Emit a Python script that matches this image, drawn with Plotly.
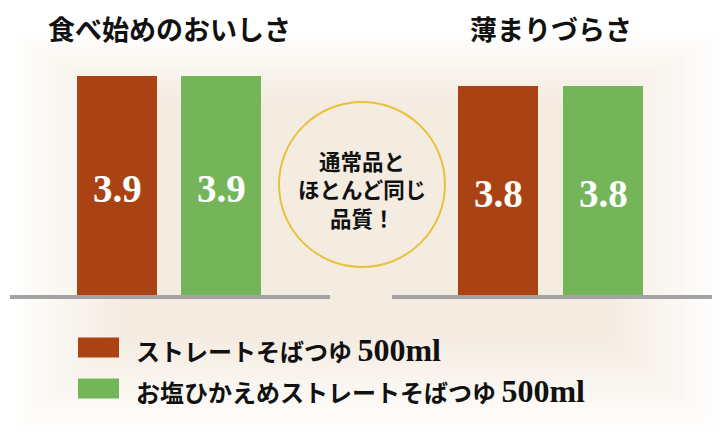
import plotly.graph_objects as go

# ---- data ----
categories = ["食べ始めのおいしさ", "薄まりづらさ"]
series_names = ["ストレートそばつゆ 500ml", "お塩ひかえめストレートそばつゆ 500ml"]
regular = [3.9, 3.8]
low_salt = [3.9, 3.8]
badge_lines = ["通常品と", "ほとんど同じ", "品質！"]

# ---- style ----
W, H = 724, 442
OFF = 8                      # page body margin
FW, FH = W - OFF, H - OFF    # figure size that fits the window
RED = "#ab4213"
GREEN = "#74b55a"
BAR_COLORS = [RED, GREEN]
JP = "Noto Sans CJK JP"
SERIF = "Liberation Serif"
Y_MIN, Y_MAX = 1.595, 4.069
BG_CENTER = (244, 236, 225)


def px_x(p):
    return (p - OFF) / FW


def px_y(p):
    return 1 - (p - OFF) / FH


fig = go.Figure()

# background vignette: nested opaque layers blending white -> warm beige
shapes = []
n = 40
for i in range(n):
    t = i / (n - 1)
    x0 = 8 + t * 115
    x1 = W - t * 115
    y0 = 30 + t * 70
    y1 = 436 - t * 100
    c = tuple(round(255 + (b - 255) * t) for b in BG_CENTER)
    shapes.append(dict(type="rect", xref="paper", yref="paper", layer="below",
                       x0=px_x(x0), x1=px_x(x1), y0=px_y(y1), y1=px_y(y0),
                       line=dict(width=0), fillcolor=f"rgb{c}"))

domains = [(px_x(10), px_x(330)), (px_x(392), px_x(712))]
xranges = [[-1.026, 2.042], [-1.01, 2.038]]
ydom = [px_y(295), px_y(60)]

annotations = []
for k, cat in enumerate(categories):
    xa = "x" if k == 0 else "x2"
    ya = "y" if k == 0 else "y2"
    vals = [regular[k], low_salt[k]]
    fig.add_trace(go.Bar(x=[0, 1], y=vals, width=0.765,
                         marker=dict(color=BAR_COLORS, line=dict(width=0)),
                         xaxis=xa, yaxis=ya, showlegend=False, hoverinfo="skip"))
    for j, v in enumerate(vals):
        annotations.append(dict(x=j, y=(Y_MIN + v) / 2, xref=xa, yref=ya,
                                text=f"{v:.1f}", showarrow=False, yshift=-3,
                                font=dict(family=SERIF, size=39, color="white", weight="bold"),
                                xanchor="center", yanchor="middle"))
    # category title centered above bars
    d0, d1 = domains[k]
    r0, r1 = xranges[k]
    cx = d0 + (0.5 - r0) / (r1 - r0) * (d1 - d0)
    annotations.append(dict(x=cx, y=1, xref="paper", yref="paper", text=cat,
                            showarrow=False, xanchor="center", yanchor="top", borderpad=0,
                            font=dict(family=JP, size=27, color="#111111", weight="bold")))

axis_common = dict(showgrid=False, zeroline=False, showticklabels=False, ticks="")
fig.update_layout(
    xaxis=dict(domain=list(domains[0]), range=xranges[0], showline=True,
               linecolor="#a3a3a3", linewidth=4, anchor="y", **axis_common),
    xaxis2=dict(domain=list(domains[1]), range=xranges[1], showline=True,
                linecolor="#a3a3a3", linewidth=4, anchor="y2", **axis_common),
    yaxis=dict(domain=ydom, range=[Y_MIN, Y_MAX], anchor="x", showline=False, **axis_common),
    yaxis2=dict(domain=ydom, range=[Y_MIN, Y_MAX], anchor="x2", showline=False, **axis_common),
)

# badge circle
shapes.append(dict(type="circle", xref="paper", yref="paper",
                   x0=px_x(279), x1=px_x(445), y0=px_y(267), y1=px_y(102),
                   line=dict(color="#e8c23c", width=2), fillcolor="rgba(0,0,0,0)"))
for i, line in enumerate(badge_lines):
    annotations.append(dict(x=px_x(362), y=px_y(160 + i * 28.5), xref="paper", yref="paper",
                            text=line, showarrow=False, xanchor="center", yanchor="middle",
                            height=25, valign="middle", borderpad=0,
                            font=dict(family=JP, size=21.5, color="#111111", weight="bold")))

# legend
for i, name in enumerate(series_names):
    yc = 347.5 + i * 41
    shapes.append(dict(type="rect", xref="paper", yref="paper",
                       x0=px_x(78), x1=px_x(119), y0=px_y(yc + 10), y1=px_y(yc - 10),
                       line=dict(width=0), fillcolor=BAR_COLORS[i]))
    label, vol = name.rsplit(" ", 1)
    txt = f"{label} <span style='font-family:{SERIF};font-size:32px'>{vol}</span>"
    annotations.append(dict(x=px_x(134), y=px_y(yc + 2), xref="paper", yref="paper",
                            text=txt, showarrow=False, xanchor="left", yanchor="middle",
                            font=dict(family=JP, size=24, color="#111111", weight="bold")))

fig.update_layout(
    width=FW, height=FH, autosize=False,
    margin=dict(l=0, r=0, t=0, b=0, pad=0),
    paper_bgcolor="white", plot_bgcolor="rgba(0,0,0,0)",
    shapes=shapes, annotations=annotations, bargap=0,
)

fig.write_html("out.html")
